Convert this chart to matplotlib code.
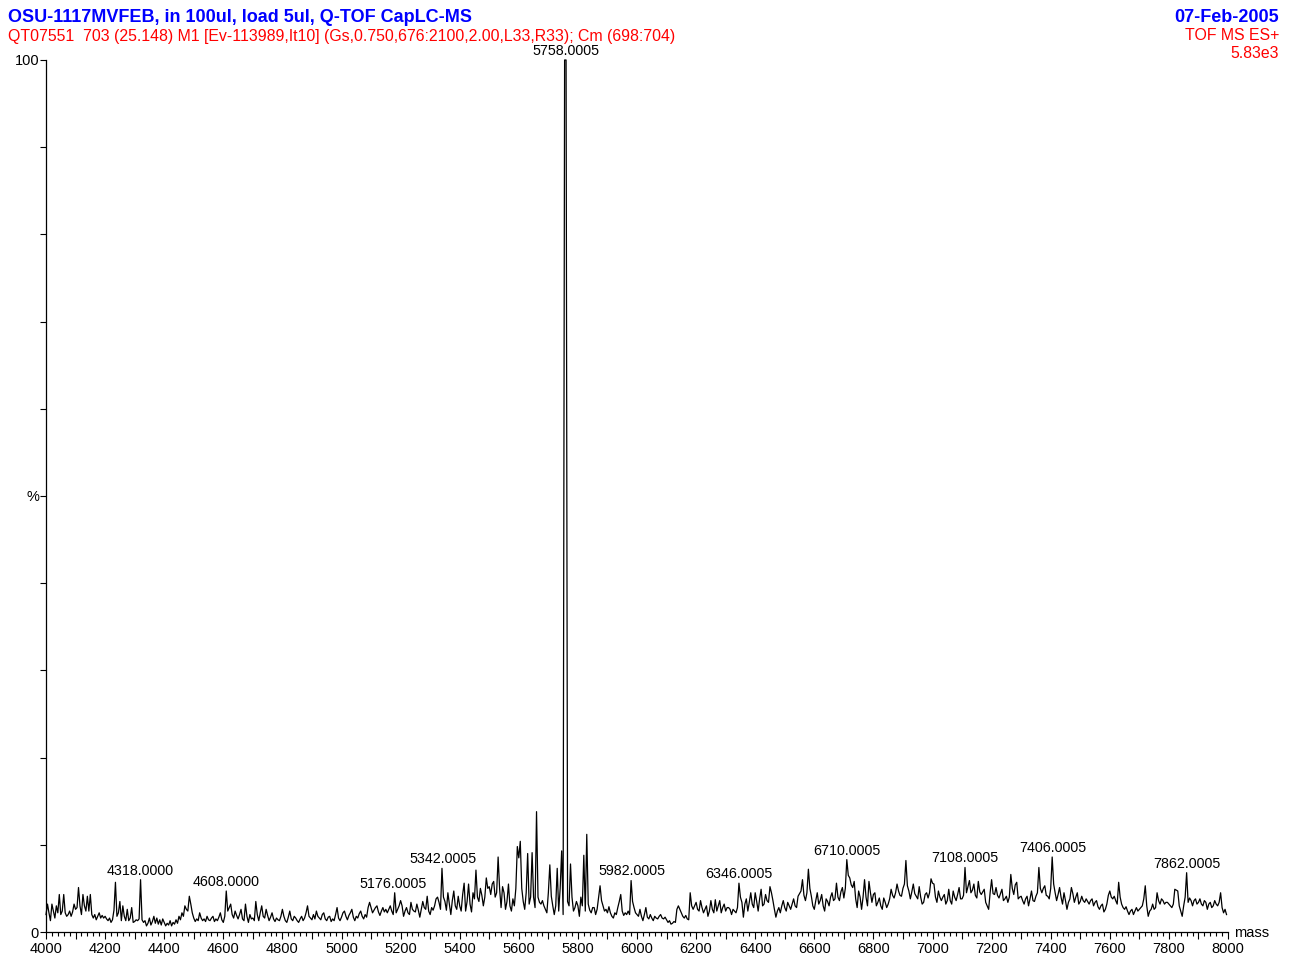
import numpy as np
import matplotlib
matplotlib.use('Agg')
import matplotlib.pyplot as plt
from matplotlib.ticker import MultipleLocator, FuncFormatter

plt.rcParams['font.family'] = ['Liberation Sans', 'DejaVu Sans']

# ---- data: relative intensity (%) on a 5 Da grid, 4000..7995 ----
i_4000 = [
    2.0, 3.2, 2.2, 1.3, 3.2, 2.4, 1.6, 3.0, 2.2, 4.3, 2.0, 2.4, 4.3, 2.2, 1.8, 2.0, 2.4, 1.8, 2.3, 3.2,
    2.6, 2.8, 5.1, 3.0, 2.0, 4.3, 3.0, 2.4, 4.1, 2.4, 4.3, 2.0, 1.6, 2.0, 1.4, 1.8, 2.2, 1.6, 1.9, 1.6,
    1.8, 1.5, 1.3, 1.6, 1.1, 1.4, 2.5, 5.7, 1.8, 2.2, 3.5, 1.3, 3.0, 1.8, 1.3, 2.6, 1.3, 1.6, 2.8, 1.1,
    1.2, 1.4, 1.3, 1.5, 6.0, 1.4, 1.1, 1.3, 0.7, 1.0, 1.6, 0.8, 1.2, 1.8, 1.0, 1.6, 0.9, 1.4, 0.8, 1.5,
    1.1, 0.7, 1.0, 0.8, 1.3, 0.7, 1.1, 0.9, 1.4, 1.0, 1.8, 1.4, 2.2, 1.8, 3.0, 2.6, 2.4, 4.1, 3.2, 2.2,
    1.6, 1.2, 1.5, 1.3, 2.2, 1.6, 1.3, 1.5, 1.2, 1.8, 1.4, 1.3, 1.6, 1.8, 1.2, 1.5, 1.3, 1.7, 2.2, 1.4,
    1.1, 1.8, 4.7, 2.4, 2.8, 3.2, 2.0, 1.6, 2.4, 1.9, 1.5, 2.0, 2.6, 1.5, 1.3, 3.2, 1.8, 1.1, 2.0, 1.5,
    1.6, 1.3, 3.5, 2.0, 1.3, 2.2, 3.0, 1.8, 1.6, 2.6, 1.9, 1.3, 1.7, 2.2, 1.5, 1.2, 1.6, 1.4, 1.3, 1.8,
    2.6, 1.8, 1.3, 1.1, 1.7, 2.4, 1.5, 1.3, 1.8, 1.6, 1.3, 1.1, 1.5, 1.8, 1.3, 1.6, 2.2, 3.0, 1.8, 1.6,
    1.4, 2.0, 1.5, 2.4, 1.8, 1.6, 1.4, 2.0, 2.2, 1.5, 1.3, 1.7, 1.8, 1.2, 1.5, 1.3, 2.0, 2.8, 1.6, 1.3,
]
i_5000 = [
    1.7, 2.2, 2.4, 1.8, 1.4, 1.9, 2.2, 2.6, 1.7, 1.3, 1.8, 1.6, 2.1, 2.4, 1.8, 1.5, 2.0, 1.7, 2.8, 3.4,
    2.8, 2.2, 2.5, 2.8, 3.0, 2.3, 1.9, 2.4, 2.8, 2.3, 2.6, 2.2, 2.6, 3.0, 2.4, 2.0, 4.5, 2.2, 2.6, 3.0,
    3.6, 3.0, 1.8, 2.4, 2.8, 2.2, 2.0, 3.4, 2.6, 2.4, 2.3, 3.2, 2.5, 1.7, 2.6, 3.5, 2.8, 2.6, 4.1, 2.4,
    2.0, 2.8, 2.5, 3.0, 3.8, 4.0, 3.4, 2.6, 7.3, 4.0, 3.5, 2.5, 4.5, 3.2, 2.0, 3.6, 4.7, 3.0, 2.6, 4.1,
    3.0, 2.4, 4.3, 5.6, 2.4, 3.5, 5.5, 3.2, 2.3, 4.5, 3.8, 7.1, 4.0, 3.5, 5.0, 4.2, 3.0, 4.0, 6.2, 5.0,
    5.2, 4.3, 5.5, 5.8, 4.0, 4.5, 8.6, 5.0, 2.8, 5.2, 4.5, 2.6, 3.5, 5.5, 3.0, 2.4, 3.8, 3.0, 5.0, 9.8,
    8.5, 10.4, 5.0, 3.5, 2.6, 4.5, 9.0, 3.2, 4.0, 9.1, 4.0, 2.8, 13.8, 4.0, 3.4, 3.2, 3.6, 3.0, 2.6, 2.2,
    4.5, 7.7, 4.1, 3.0, 2.0, 3.0, 7.3, 2.4, 5.0, 9.3, 2.0, 100.0, 100.0, 3.5, 3.0, 7.8, 4.0, 2.4, 2.8, 3.5,
    3.0, 1.8, 4.0, 3.0, 8.8, 2.4, 11.2, 3.2, 2.5, 2.2, 2.8, 2.8, 2.0, 2.6, 4.0, 5.3, 3.6, 3.0, 2.4, 2.6,
    2.2, 2.9, 2.2, 1.8, 1.6, 2.2, 2.0, 2.8, 3.5, 4.3, 2.4, 1.9, 2.2, 2.0, 2.4, 2.0, 5.9, 3.5, 2.8, 2.2,
]
i_6000 = [
    2.0, 1.8, 2.6, 1.8, 1.3, 2.0, 2.8, 1.7, 1.5, 2.0, 1.6, 1.3, 1.8, 1.6, 1.5, 1.8, 2.0, 1.6, 1.5, 1.7,
    1.4, 1.1, 1.3, 0.9, 1.0, 1.2, 1.1, 2.6, 3.0, 2.6, 2.2, 1.8, 1.6, 1.9, 1.5, 1.4, 4.5, 3.0, 2.6, 3.0,
    3.4, 2.6, 2.4, 3.6, 2.8, 2.2, 2.6, 3.0, 1.8, 2.4, 3.6, 2.6, 2.2, 3.7, 2.4, 3.0, 3.6, 2.2, 2.8, 3.2,
    2.4, 2.8, 2.8, 2.6, 2.0, 2.6, 2.4, 2.2, 2.8, 5.6, 4.0, 3.4, 1.7, 3.2, 3.8, 2.4, 3.4, 4.5, 3.2, 2.8,
    4.5, 3.5, 2.4, 3.8, 4.9, 3.0, 3.2, 4.3, 3.6, 3.4, 5.2, 4.5, 3.6, 2.6, 1.7, 2.4, 2.8, 2.2, 3.0, 3.6,
    2.8, 2.4, 3.4, 3.0, 2.6, 3.2, 3.8, 3.0, 2.8, 4.1, 4.4, 4.7, 6.0, 4.2, 3.6, 4.5, 7.2, 5.0, 4.1, 3.0,
    2.6, 3.6, 4.5, 3.2, 3.6, 4.3, 3.0, 2.4, 3.8, 3.5, 3.0, 4.0, 4.5, 3.6, 3.8, 5.6, 4.0, 3.6, 4.6, 5.1,
    3.9, 5.0, 8.3, 6.5, 6.2, 5.4, 5.1, 5.8, 3.8, 2.8, 4.7, 4.0, 2.6, 4.0, 6.0, 4.0, 3.0, 5.8, 4.5, 3.4,
    4.3, 4.5, 3.0, 3.4, 3.9, 3.0, 2.6, 3.9, 3.4, 2.8, 3.2, 3.8, 4.9, 4.2, 3.9, 4.5, 5.5, 4.7, 4.2, 4.1,
    5.0, 5.5, 8.2, 5.3, 4.7, 3.8, 4.6, 5.5, 4.4, 4.1, 3.8, 5.2, 4.0, 3.2, 3.4, 4.3, 4.5, 3.9, 4.5, 6.1,
]
i_7000 = [
    5.6, 5.5, 4.0, 3.4, 4.7, 4.0, 3.6, 4.0, 4.3, 3.2, 3.6, 4.9, 3.6, 3.2, 4.7, 4.0, 3.6, 4.3, 5.1, 3.8,
    3.8, 4.2, 7.4, 4.5, 5.2, 5.9, 4.5, 4.8, 5.5, 4.2, 3.9, 5.8, 4.6, 4.3, 4.6, 4.9, 3.4, 3.0, 2.6, 4.5,
    6.0, 4.4, 4.3, 5.1, 4.2, 3.9, 4.4, 4.9, 3.6, 3.8, 4.1, 3.4, 4.0, 6.6, 5.0, 4.3, 5.4, 5.7, 3.8, 4.0,
    4.1, 3.6, 3.2, 3.8, 4.1, 3.0, 3.8, 4.7, 3.6, 3.5, 4.1, 4.5, 7.4, 5.0, 4.5, 5.0, 5.3, 4.2, 4.1, 3.8,
    5.0, 8.6, 5.5, 4.5, 3.6, 4.3, 5.1, 4.0, 3.2, 4.5, 3.6, 2.6, 3.4, 3.8, 5.1, 4.4, 3.4, 4.0, 4.5, 3.2,
    3.5, 4.1, 3.6, 3.4, 3.8, 3.5, 3.2, 3.6, 3.8, 3.0, 3.4, 3.6, 2.9, 2.6, 3.0, 3.2, 2.3, 2.6, 3.2, 4.2,
    4.7, 4.0, 3.8, 4.1, 3.6, 3.2, 5.7, 4.0, 3.2, 2.8, 2.6, 2.9, 2.4, 2.0, 2.4, 2.6, 2.0, 2.4, 2.8, 2.4,
    2.6, 2.8, 3.0, 3.8, 5.3, 3.0, 1.8, 2.4, 2.6, 3.2, 2.6, 2.8, 4.5, 3.6, 3.2, 3.8, 3.6, 3.2, 3.4, 3.4,
    3.2, 3.0, 2.8, 3.2, 4.9, 4.8, 4.7, 3.0, 2.4, 1.8, 3.0, 4.0, 6.8, 3.4, 3.9, 3.6, 3.0, 3.6, 3.8, 3.2,
    3.4, 3.8, 3.2, 3.0, 3.6, 3.4, 2.6, 3.2, 3.4, 2.8, 3.0, 3.6, 3.2, 3.0, 3.4, 4.5, 2.8, 2.2, 2.6, 2.0,
]

mass_start = 4000
mass_step = 5

peak_masses = [4318.0, 4608.0, 5176.0005, 5342.0005, 5758.0005, 5982.0005,
               6346.0005, 6710.0005, 7108.0005, 7406.0005, 7862.0005]
peak_labels = ["4318.0000", "4608.0000", "5176.0005", "5342.0005", "5758.0005", "5982.0005",
               "6346.0005", "6710.0005", "7108.0005", "7406.0005", "7862.0005"]

title_left = "OSU-1117MVFEB, in 100ul, load 5ul, Q-TOF CapLC-MS"
subtitle_left = "QT07551  703 (25.148) M1 [Ev-113989,It10] (Gs,0.750,676:2100,2.00,L33,R33); Cm (698:704)"
title_right = "07-Feb-2005"
subtitle_right = ["TOF MS ES+", "5.83e3"]

# ---- build series ----
intensity = np.array(i_4000 + i_5000 + i_6000 + i_7000, dtype=float)
mass = mass_start + mass_step * np.arange(len(intensity))

W, H = 1290, 958
fig = plt.figure(figsize=(W / 100, H / 100), dpi=100)
ax = fig.add_axes([46 / W, 1 - 932 / H, (1228 - 46) / W, (932 - 60) / H])

ax.plot(mass, intensity, color='black', lw=0.9, clip_on=False)
ax.set_xlim(4000, 8000)
ax.set_ylim(0, 100)

for s in ['top', 'right']:
    ax.spines[s].set_visible(False)
for s in ['left', 'bottom']:
    ax.spines[s].set_linewidth(0.9)

ax.yaxis.set_major_locator(MultipleLocator(10))
ax.yaxis.set_major_formatter(FuncFormatter(
    lambda v, p: {0: '0', 50: '%', 100: '100'}.get(int(round(v)), '')))
ax.xaxis.set_major_locator(MultipleLocator(100))
ax.xaxis.set_minor_locator(MultipleLocator(20))
ax.xaxis.set_major_formatter(FuncFormatter(
    lambda v, p: f"{int(round(v))}" if int(round(v)) % 200 == 0 else ''))
ax.tick_params(axis='x', which='major', length=5, width=0.8, pad=2, labelsize=10.5)
ax.tick_params(axis='x', which='minor', length=3, width=0.8)
ax.tick_params(axis='y', which='major', length=4, width=0.8, pad=1, labelsize=10.5)

# peak labels
for m, lab in zip(peak_masses, peak_labels):
    sel = np.abs(mass - m) <= 6
    top = intensity[sel].max()
    ax.annotate(lab, xy=(m, top), xytext=(0, 1.5), textcoords='offset points',
                ha='center', va='bottom', fontsize=10.3, annotation_clip=False)

fig.text(1234 / W, 1 - 933 / H, "mass", ha='left', va='center', fontsize=10.5)

fig.text(8 / W, 1 - 18 / H, title_left, ha='left', va='center', fontsize=13,
         fontweight='bold', color='#0000ff')
fig.text(8 / W, 1 - 36 / H, subtitle_left, ha='left', va='center', fontsize=11.4,
         color='#ff0000')
fig.text(1279 / W, 1 - 18 / H, title_right, ha='right', va='center', fontsize=13,
         fontweight='bold', color='#0000ff')
fig.text(1279 / W, 1 - 36 / H, subtitle_right[0], ha='right', va='center', fontsize=11.4,
         color='#ff0000')
fig.text(1279 / W, 1 - 53 / H, subtitle_right[1], ha='right', va='center', fontsize=11.4,
         color='#ff0000')

fig.savefig('out.png', dpi=100)
